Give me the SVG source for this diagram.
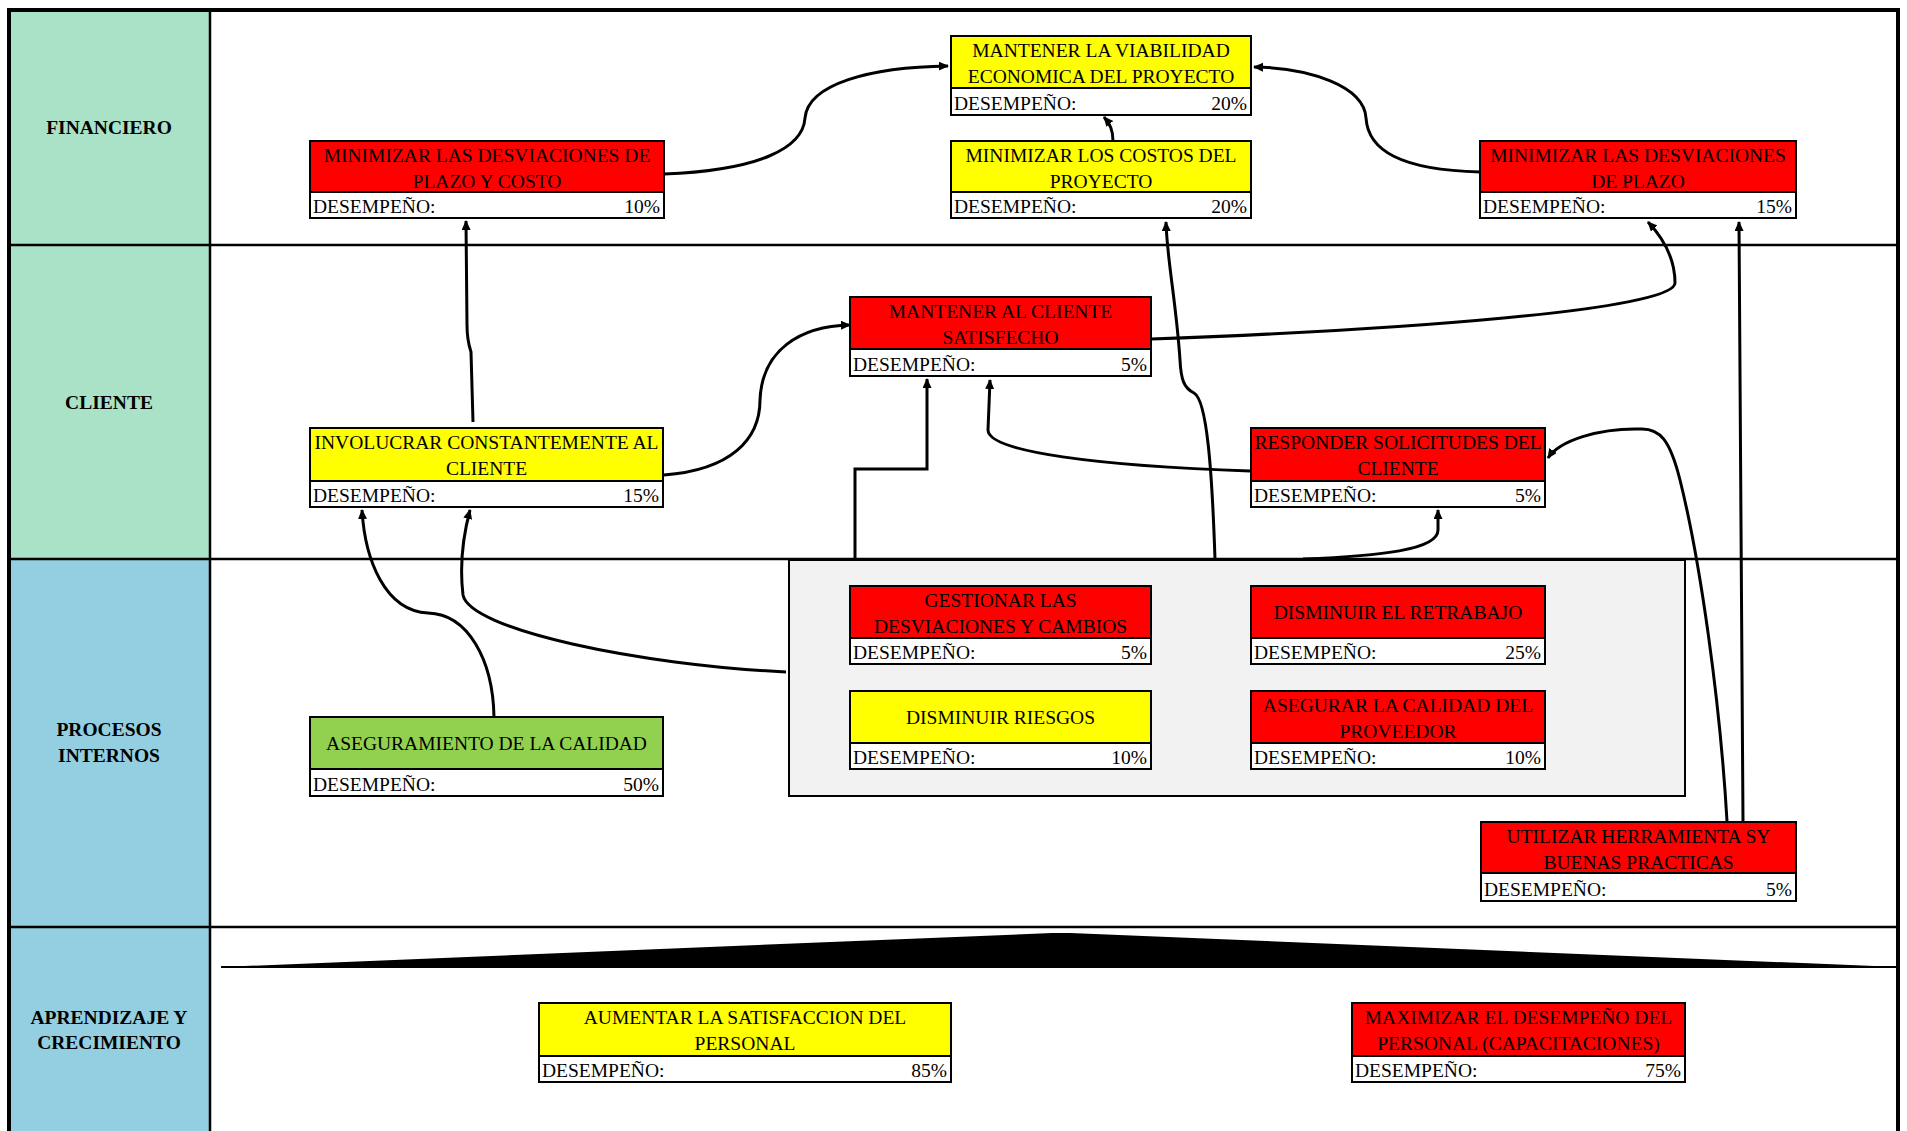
<svg xmlns="http://www.w3.org/2000/svg" width="1907" height="1131" viewBox="0 0 1907 1131">
  <style>
    .t { font-family: "Liberation Serif", "Times New Roman", serif; font-size: 19.5px; fill: #000; }
    .b { font-weight: bold; }
    .c { text-anchor: middle; }
    .r { text-anchor: end; }
    .box rect { stroke: #000; stroke-width: 2; }
    .red { fill: #FF0000; }
    .yel { fill: #FFFF00; }
    .grn { fill: #92D050; }
    .ds { fill: #FFFFFF; }
    .grid { stroke: #000; stroke-width: 2.5; fill: none; }
    .link { fill: none; stroke: #000; stroke-width: 3; marker-end: url(#ah); }
  </style>
  <defs>
    <marker id="ah" markerWidth="11" markerHeight="10" refX="9" refY="4.5" orient="auto" markerUnits="userSpaceOnUse">
      <path d="M0,0 L10,4.5 L0,9 z" fill="#000"/>
    </marker>
  </defs>

  <rect x="0" y="0" width="1907" height="1131" fill="#FFFFFF"/>

  <!-- perspective label column -->
  <g id="lanes">
    <rect x="9" y="10" width="201" height="235" fill="#A9E2C6"/>
    <rect x="9" y="245" width="201" height="314" fill="#A9E2C6"/>
    <rect x="9" y="559" width="201" height="368" fill="#94CFE1"/>
    <rect x="9" y="927" width="201" height="210" fill="#94CFE1"/>
    <line class="grid" x1="9" y1="245" x2="1898" y2="245"/>
    <line class="grid" x1="9" y1="559" x2="1898" y2="559"/>
    <line class="grid" x1="9" y1="927" x2="1898" y2="927"/>
    <line class="grid" x1="210" y1="10" x2="210" y2="1135"/>
    <rect x="9" y="10" width="1889" height="1135" fill="none" stroke="#000" stroke-width="4"/>
    <text class="t b c" x="109" y="134">FINANCIERO</text>
    <text class="t b c" x="109" y="409">CLIENTE</text>
    <text class="t b c" x="109" y="736">PROCESOS</text>
    <text class="t b c" x="109" y="762">INTERNOS</text>
    <text class="t b c" x="109" y="1024">APRENDIZAJE Y</text>
    <text class="t b c" x="109" y="1049">CRECIMIENTO</text>
  </g>

  <!-- base wedge of the learning perspective -->
  <g id="base">
    <line x1="221" y1="967" x2="1898" y2="967" stroke="#000" stroke-width="2"/>
    <polygon points="221,967 1052,933 1070,933 1898,967" fill="#000"/>
  </g>

  <!-- internal process cluster -->
  <g id="procesos">
    <rect x="789" y="560" width="896" height="236" fill="#F2F2F2" stroke="#000" stroke-width="2"/>
  </g>

  <g id="n1" class="box">
    <rect class="red" x="310" y="141" width="354" height="51"/>
    <rect class="ds" x="310" y="192" width="354" height="26"/>
    <text class="t c" x="487" y="161.5">MINIMIZAR LAS DESVIACIONES DE</text>
    <text class="t c" x="487" y="187.5">PLAZO Y COSTO</text>
    <text class="t" x="313" y="213">DESEMPEÑO:</text>
    <text class="t r" x="660" y="213">10%</text>
  </g>

  <g id="n2" class="box">
    <rect class="yel" x="951" y="36" width="300" height="52"/>
    <rect class="ds" x="951" y="88" width="300" height="27"/>
    <text class="t c" x="1101" y="56.5">MANTENER LA VIABILIDAD</text>
    <text class="t c" x="1101" y="82.5">ECONOMICA DEL PROYECTO</text>
    <text class="t" x="954" y="110">DESEMPEÑO:</text>
    <text class="t r" x="1247" y="110">20%</text>
  </g>

  <g id="n3" class="box">
    <rect class="yel" x="951" y="141" width="300" height="51"/>
    <rect class="ds" x="951" y="192" width="300" height="26"/>
    <text class="t c" x="1101" y="161.5">MINIMIZAR LOS COSTOS DEL</text>
    <text class="t c" x="1101" y="187.5">PROYECTO</text>
    <text class="t" x="954" y="213">DESEMPEÑO:</text>
    <text class="t r" x="1247" y="213">20%</text>
  </g>

  <g id="n4" class="box">
    <rect class="red" x="1480" y="141" width="316" height="51"/>
    <rect class="ds" x="1480" y="192" width="316" height="26"/>
    <text class="t c" x="1638" y="161.5">MINIMIZAR LAS DESVIACIONES</text>
    <text class="t c" x="1638" y="187.5">DE PLAZO</text>
    <text class="t" x="1483" y="213">DESEMPEÑO:</text>
    <text class="t r" x="1792" y="213">15%</text>
  </g>

  <g id="n5" class="box">
    <rect class="red" x="850" y="297" width="301" height="52"/>
    <rect class="ds" x="850" y="349" width="301" height="27"/>
    <text class="t c" x="1000.5" y="317.5">MANTENER AL CLIENTE</text>
    <text class="t c" x="1000.5" y="343.5">SATISFECHO</text>
    <text class="t" x="853" y="371">DESEMPEÑO:</text>
    <text class="t r" x="1147" y="371">5%</text>
  </g>

  <g id="n6" class="box">
    <rect class="yel" x="310" y="428" width="353" height="53"/>
    <rect class="ds" x="310" y="481" width="353" height="26"/>
    <text class="t c" x="486.5" y="448.5">INVOLUCRAR CONSTANTEMENTE AL</text>
    <text class="t c" x="486.5" y="474.5">CLIENTE</text>
    <text class="t" x="313" y="502">DESEMPEÑO:</text>
    <text class="t r" x="659" y="502">15%</text>
  </g>

  <g id="n7" class="box">
    <rect class="red" x="1251" y="428" width="294" height="53"/>
    <rect class="ds" x="1251" y="481" width="294" height="26"/>
    <text class="t c" x="1398" y="448.5">RESPONDER SOLICITUDES DEL</text>
    <text class="t c" x="1398" y="474.5">CLIENTE</text>
    <text class="t" x="1254" y="502">DESEMPEÑO:</text>
    <text class="t r" x="1541" y="502">5%</text>
  </g>

  <g id="n8" class="box">
    <rect class="red" x="850" y="586" width="301" height="52"/>
    <rect class="ds" x="850" y="638" width="301" height="26"/>
    <text class="t c" x="1000.5" y="606.5">GESTIONAR LAS</text>
    <text class="t c" x="1000.5" y="632.5">DESVIACIONES Y CAMBIOS</text>
    <text class="t" x="853" y="659">DESEMPEÑO:</text>
    <text class="t r" x="1147" y="659">5%</text>
  </g>

  <g id="n9" class="box">
    <rect class="red" x="1251" y="586" width="294" height="52"/>
    <rect class="ds" x="1251" y="638" width="294" height="26"/>
    <text class="t c" x="1398" y="619">DISMINUIR EL RETRABAJO</text>
    <text class="t" x="1254" y="659">DESEMPEÑO:</text>
    <text class="t r" x="1541" y="659">25%</text>
  </g>

  <g id="n10" class="box">
    <rect class="yel" x="850" y="691" width="301" height="52"/>
    <rect class="ds" x="850" y="743" width="301" height="26"/>
    <text class="t c" x="1000.5" y="724">DISMINUIR RIESGOS</text>
    <text class="t" x="853" y="764">DESEMPEÑO:</text>
    <text class="t r" x="1147" y="764">10%</text>
  </g>

  <g id="n11" class="box">
    <rect class="red" x="1251" y="691" width="294" height="52"/>
    <rect class="ds" x="1251" y="743" width="294" height="26"/>
    <text class="t c" x="1398" y="711.5">ASEGURAR LA CALIDAD DEL</text>
    <text class="t c" x="1398" y="737.5">PROVEEDOR</text>
    <text class="t" x="1254" y="764">DESEMPEÑO:</text>
    <text class="t r" x="1541" y="764">10%</text>
  </g>

  <g id="n12" class="box">
    <rect class="red" x="1481" y="822" width="315" height="51"/>
    <rect class="ds" x="1481" y="873" width="315" height="28"/>
    <text class="t c" x="1638.5" y="842.5">UTILIZAR HERRAMIENTA SY</text>
    <text class="t c" x="1638.5" y="868.5">BUENAS PRACTICAS</text>
    <text class="t" x="1484" y="896">DESEMPEÑO:</text>
    <text class="t r" x="1792" y="896">5%</text>
  </g>

  <g id="n13" class="box">
    <rect class="grn" x="310" y="717" width="353" height="52"/>
    <rect class="ds" x="310" y="769" width="353" height="27"/>
    <text class="t c" x="486.5" y="750">ASEGURAMIENTO DE LA CALIDAD</text>
    <text class="t" x="313" y="791">DESEMPEÑO:</text>
    <text class="t r" x="659" y="791">50%</text>
  </g>

  <g id="n14" class="box">
    <rect class="yel" x="539" y="1003" width="412" height="53"/>
    <rect class="ds" x="539" y="1056" width="412" height="26"/>
    <text class="t c" x="745" y="1023.5">AUMENTAR LA SATISFACCION DEL</text>
    <text class="t c" x="745" y="1049.5">PERSONAL</text>
    <text class="t" x="542" y="1077">DESEMPEÑO:</text>
    <text class="t r" x="947" y="1077">85%</text>
  </g>

  <g id="n15" class="box">
    <rect class="red" x="1352" y="1003" width="333" height="53"/>
    <rect class="ds" x="1352" y="1056" width="333" height="26"/>
    <text class="t c" x="1518.5" y="1023.5">MAXIMIZAR EL DESEMPEÑO DEL</text>
    <text class="t c" x="1518.5" y="1049.5">PERSONAL (CAPACITACIONES)</text>
    <text class="t" x="1355" y="1077">DESEMPEÑO:</text>
    <text class="t r" x="1681" y="1077">75%</text>
  </g>

  <!-- cause-effect links -->
  <g id="connectors">
    <path class="link" d="M664,174 C760,170 803,148 805,118 C808,84 870,67 948,66"/>
    <path class="link" d="M1113,141 C1113,130 1110,124 1104,117"/>
    <path class="link" d="M1480,172 C1400,170 1368,150 1366,118 C1364,86 1310,68 1254,67"/>
    <path class="link" d="M473,422 L471,352 Q467,340 467,325 L466,221"/>
    <path class="link" d="M664,475 C730,470 760,440 760,400 C762,350 800,326 850,325"/>
    <path class="link" d="M855,559 V469 H927 V379"/>
    <path class="link" d="M1250,471 C1100,466 988,452 988,430 L990,380"/>
    <path class="link" d="M1151,339 C1400,330 1675,310 1675,283 C1675,260 1665,240 1648,222"/>
    <path class="link" d="M1303,559 C1380,556 1438,550 1438,530 L1438,510"/>
    <path class="link" d="M1215,559 C1212,470 1207,400 1194,393 C1184,388 1181,380 1180,360 C1176,300 1167,260 1166,222"/>
    <path class="link" d="M1727,821 C1720,700 1700,560 1680,480 C1670,440 1660,428 1640,429 C1600,428 1560,440 1548,458"/>
    <path class="link" d="M1743,822 L1741,525 L1739,222"/>
    <path class="link" d="M494,717 C493,660 468,614 428,613 C385,611 365,560 362,510"/>
    <path class="link" d="M786,672 C640,665 470,630 463,595 C460,570 462,540 470,510"/>
  </g>
</svg>
